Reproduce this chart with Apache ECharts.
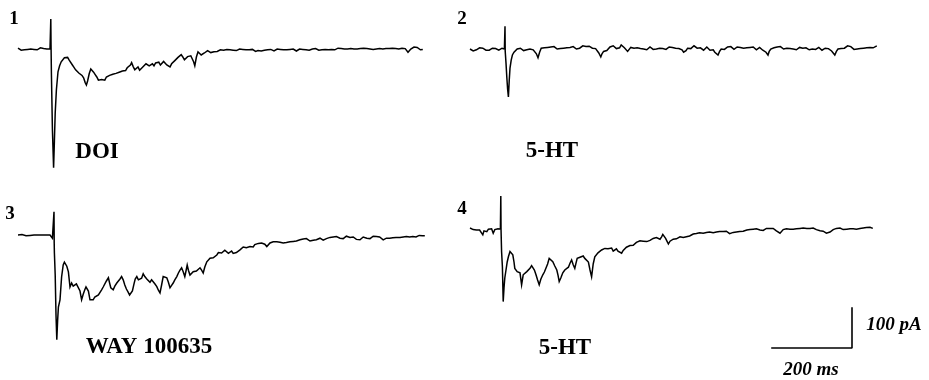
<!DOCTYPE html>
<html>
<head>
<meta charset="utf-8">
<script src="https://cdn.jsdelivr.net/npm/echarts@6/dist/echarts.min.js"></script>
<style>
  html, body { margin: 0; padding: 0; background: #fff; }
  #chart { width: 929px; height: 380px; }
</style>
</head>
<body>
<div id="chart"></div>
<script>
// Whole-cell current traces: [time (ms), current (pA)], baseline = 0 pA
const trace1Doi = [
  [0,2],[4,0],[8,-3],[12,-5],[16,-2],[20,-4],[24,-1],[28,-3],[32,0],[36,2],[40,-1],[44,1],[48,-2],[52,0],[56,3],[60,-1],[64,1],[68,-2],[72,0],[76,3],[80,0],
  [81,4],[82,75],[82.6,10],[83.5,-60],[86,-200],[89,-297],[91,-230],[93,-160],[96,-102],[100,-57],[104,-42],[108,-32],[112,-27],[116,-22],[120,-24],[124,-21],[128,-28],[132,-32],[136,-40],[140,-46],[144,-52],[148,-56],[152,-60],[156,-58],[160,-66],[164,-72],[168,-84],[171,-90],[174,-80],[178,-62],[182,-50],[185,-46],[189,-58],[193,-64],[197,-70],[201,-78],[205,-82],[209,-76],[213,-73],[217,-78],[221,-70],[225,-74],[229,-66],[233,-70],[237,-63],[241,-68],[245,-61],[249,-66],[253,-58],[257,-63],[261,-55],[265,-60],[269,-54],[273,-47],[277,-52],[281,-40],[284,-34],[288,-44],[292,-52],[296,-49],[300,-45],[304,-53],[308,-50],[312,-45],[316,-41],[320,-37],[324,-35],[328,-42],[332,-39],[336,-37],[340,-42],[344,-35],[348,-38],[352,-33],[356,-40],[360,-36],[364,-31],[368,-36],[372,-40],[376,-37],[380,-45],[384,-37],[388,-33],[392,-29],[396,-25],[400,-21],[404,-17],[408,-14],[412,-20],[416,-27],[420,-23],[424,-19],[428,-24],[432,-17],[436,-22],[439,-32],[442,-42],[446,-20],[450,-7],[454,-12],[458,-15],[462,-19],[466,-10],[470,-8],[474,-4],[478,-6],[482,-9],[486,-5],[490,-7],[494,-3],[498,-6],[502,-4],[506,-2],[510,-5],[514,-3],[518,-6],[522,-1],[526,-3],[530,-2],[534,-5],[538,-3],
  [542,-1],[546,-4],[550,-2],[554,0],[558,-3],[562,-1],[566,-4],[570,-2],[574,-5],[578,-2],[582,-3],[586,-1],[590,-4],[594,-6],[597,-10],[600,-4],[604,-2],[608,-5],[612,-1],[616,-3],[620,-6],[624,-2],[628,-4],[632,-1],[636,-3],[640,-5],[644,-2],[648,0],[652,-3],[656,-1],[660,-4],[664,-2],[668,0],[672,-2],[676,1],[680,-1],[684,-3],[688,0],[692,-2],[696,-5],[700,-2],[704,0],[708,-3],[712,-1],[716,1],[720,-2],[724,0],[728,-3],[732,-1],[736,0],[740,-2],[744,1],[748,-1],[752,-3],[756,0],[760,-2],[764,1],[768,-1],[772,0],[776,-2],[780,1],[784,-1],[788,0],[792,-2],[796,0],[800,2],[804,-1],[808,1],[812,-1],[816,0],[820,2],[824,0],[828,-2],[832,1],[836,-1],[840,0],[844,2],[848,0],[852,-1],[856,1],[860,0],[864,2],[868,0],[872,1],[876,3],[880,0],[884,1],[888,-1],[892,2],[896,0],[900,2],[904,1],[908,3],[912,0],[916,2],[920,1],[924,3],[928,1],[932,0],[936,2],[940,3],[944,1],[948,2],[952,0],[956,3],[960,2],[964,4],[968,1],[972,-2],[975,-8],[978,-3],[982,0],[986,2],[990,5],[994,3],[998,4],[1002,1],[1006,-2],[1010,0],[1012,-1]
];

const trace2FiveHT = [
  [0,0],[4,-3],[8,-5],[12,-7],[16,-2],[20,0],[24,3],[28,6],[32,2],[36,0],[40,-3],[44,-1],[48,-3],[52,0],[56,2],[60,4],[64,1],[68,-1],[72,-3],[76,-1],[80,2],[84,3],[86,0],
  [87.5,57],[88,-5],[90,-35],[92,-70],[94,-100],[96,-120],[98,-80],[100,-48],[103,-28],[106,-15],[110,-8],[114,-4],[118,0],[122,-3],[126,2],[130,0],[134,-4],[138,1],[142,-2],[146,3],[150,0],[154,-5],[158,-2],[162,-6],[166,-12],[170,-22],[174,-8],[178,2],[182,6],[186,3],[190,8],[194,4],[198,1],[202,5],[206,2],[210,6],[214,3],[218,0],[222,4],[226,1],[230,5],[234,2],[238,-1],[242,3],[246,0],[250,4],[254,2],[258,6],[262,3],[266,0],[270,4],[274,2],[278,5],[282,8],[286,4],[290,6],[294,3],[298,7],[302,4],[306,2],[310,5],[314,1],[318,-3],[322,-10],[327,-20],[330,-12],[334,-6],[338,-2],[342,-4],[346,0],[350,5],[354,3],[358,8],[362,4],[366,1],[370,6],[374,3],[378,10],[382,6],[386,3],[390,-2],[394,-6],[398,-1],[402,4],[406,0],[410,2],[414,-1],[418,3],[422,-2],[426,1],[430,4],[434,0],[438,3],[442,-2],[446,1],[450,5],[454,2],[458,-1],[462,3],[466,0],[470,-2],[474,2],[478,5],[482,1],[486,3],[490,-1],[494,2],[498,5],[502,8],[506,4],[510,6],[514,2],[518,5],[522,1],[526,3],[530,-2],[534,-8],[537,-12],[540,-4],[544,2],[548,5],[552,1],[556,4],[560,8],[564,5],[568,2],[572,6],[576,3],[580,0],[584,-3],[588,2],[592,5],[596,1],[600,-3],[604,-6],[608,-2],[612,-8],[616,-10],[620,-15],[624,-6],[628,0],[632,3],[636,-1],[640,2],[644,5],[648,2],[652,6],[656,3],[660,-1],[664,2],[668,5],[672,8],[676,4],[680,6],[684,2],[688,-1],[692,3],[696,0],[700,4],[704,1],[708,5],[712,2],[716,-2],[720,1],[724,4],[728,0],[732,-3],[736,-2],[740,-8],[745,-15],[748,-6],[752,0],[756,-3],[760,3],[764,0],[768,5],[772,2],[776,6],[780,3],[784,0],[788,4],[792,2],[796,5],[800,1],[804,3],[808,0],[812,2],[816,-2],[820,1],[824,4],[828,0],[832,2],[836,-1],[840,3],[844,1],[848,-2],[852,2],[856,0],[860,3],[864,-1],[868,1],[872,4],[876,0],[880,-3],[884,-1],[888,2],[892,-1],[896,1],[900,-3],[904,-5],[908,-8],[912,-15],[916,-6],[920,0],[924,3],[928,1],[932,5],[936,2],[940,6],[944,8],[948,4],[952,6],[956,2],[960,-1],[964,-3],[968,0],[972,-2],[976,1],[980,-1],[984,2],[988,0],[992,3],[996,1],[1000,4],[1004,6],[1008,3],[1012,5],[1017,8]
];

const trace3Way = [
  [0,0],[5,-1],[10,1],[15,0],[20,-2],[25,0],[30,-1],[35,1],[40,0],[45,-1],[50,0],[55,1],[60,0],[65,-1],[70,0],[75,1],[80,0],[83,-3],[86,-8],[89,-8],
  [90,58],[90.5,-20],[91,-45],[93,-100],[95,-200],[97,-262],[99,-215],[101,-180],[105,-162],[109,-105],[113,-75],[116,-68],[119,-70],[122,-78],[126,-92],[130,-130],[134,-120],[138,-128],[142,-132],[146,-122],[151,-125],[155,-140],[159,-162],[163,-148],[167,-137],[170,-130],[173,-125],[176,-140],[180,-162],[184,-158],[188,-162],[192,-155],[196,-158],[201,-150],[205,-145],[209,-137],[213,-130],[217,-125],[221,-115],[226,-107],[229,-120],[232,-132],[235,-135],[238,-137],[242,-128],[247,-120],[251,-115],[255,-110],[259,-104],[263,-112],[267,-125],[271,-135],[275,-142],[279,-150],[282,-155],[286,-140],[290,-122],[293,-110],[297,-104],[301,-112],[305,-117],[309,-108],[313,-97],[317,-104],[322,-110],[326,-112],[330,-118],[334,-112],[338,-117],[342,-122],[347,-129],[351,-138],[355,-145],[359,-125],[363,-104],[367,-108],[372,-107],[376,-118],[380,-132],[384,-126],[388,-120],[392,-112],[397,-104],[401,-95],[405,-88],[409,-82],[413,-92],[417,-104],[420,-90],[423,-75],[426,-88],[430,-100],[434,-96],[438,-92],[442,-96],[446,-90],[451,-95],[455,-82],[459,-88],[463,-95],[467,-80],[472,-67],[476,-62],[480,-58],[484,-54],[488,-57],[492,-52],[497,-50],[501,-44],[505,-39],[509,-45],[513,-42],[517,-38],[522,-39],[526,-46],[530,-44],[534,-40],[538,-46],[542,-50],[546,-44],[550,-40],[555,-37],[559,-33],[563,-30],[567,-27],[571,-32],[575,-28],[580,-29],[584,-26],[588,-30],[592,-24],[597,-25],[601,-21],[605,-24],[609,-20],[613,-19],[617,-23],[622,-29],[626,-24],[630,-20],[634,-21],[638,-17],[642,-20],[647,-17],[651,-21],[655,-18],[659,-22],[663,-20],[667,-25],[671,-19],[675,-16],[680,-17],[684,-13],[688,-16],[692,-12],[696,-15],[700,-11],[705,-12],[709,-15],[713,-10],[717,-13],[721,-9],[725,-12],[730,-15],[734,-11],[738,-13],[742,-9],[746,-12],[750,-8],[755,-8],[759,-11],[763,-13],[767,-17],[771,-9],[775,-6],[780,-6],[784,-9],[788,-5],[792,-8],[796,-4],[800,-7],[805,-8],[809,-5],[813,-9],[817,-6],[821,-3],[825,-7],[830,-6],[834,-9],[838,-5],[842,-8],[846,-11],[850,-7],[855,-12],[859,-8],[863,-5],[867,-9],[872,-8],[876,-5],[880,-9],[884,-6],[888,-3],[892,-7],[896,-4],[900,-8],[904,-5],[908,-9],[913,-12],[917,-15],[921,-8],[925,-5],[929,-8],[933,-4],[937,-7],[941,-3],[945,-6],[950,-4],[955,-6],[959,-2],[963,-5],[967,-8],[971,-4],[975,-2],[979,-5],[983,-1],[987,-4],[991,-2],[995,-5],[999,-3],[1003,-1],[1007,-3],[1011,-2],[1017,-2]
];

const trace4FiveHT = [
  [0,0],[4,-2],[8,-4],[12,-7],[16,-5],[20,-2],[24,-5],[28,-8],[32,-17],[35,-7],[38,-5],[42,-9],[46,-3],[50,-6],[54,-2],[58,-13],[62,-4],[66,-8],[70,-2],[74,-6],[76,-3],
  [77,80],[77.6,-5],[79,-60],[81,-97],[83,-184],[85,-150],[87,-125],[90,-105],[93,-85],[96,-72],[100,-59],[103,-60],[107,-67],[110,-85],[112,-101],[115,-106],[118,-109],[121,-104],[125,-112],[129,-142],[133,-117],[137,-112],[142,-109],[146,-104],[150,-101],[154,-94],[157,-97],[161,-105],[165,-117],[169,-130],[173,-142],[177,-128],[182,-117],[186,-110],[190,-105],[194,-90],[198,-76],[202,-80],[207,-84],[212,-95],[217,-105],[220,-118],[223,-134],[227,-125],[232,-112],[237,-105],[241,-100],[246,-98],[250,-88],[254,-80],[258,-92],[262,-101],[265,-88],[268,-76],[272,-78],[275,-73],[279,-73],[283,-70],[287,-76],[292,-73],[296,-85],[300,-105],[304,-122],[308,-90],[312,-72],[316,-68],[320,-62],[325,-59],[329,-55],[333,-53],[337,-51],[341,-56],[345,-52],[350,-55],[354,-50],[358,-58],[362,-57],[366,-52],[370,-58],[375,-60],[379,-63],[383,-56],[387,-52],[391,-48],[396,-47],[400,-44],[404,-40],[408,-43],[412,-38],[416,-36],[420,-34],[425,-32],[429,-37],[433,-33],[437,-36],[442,-34],[446,-29],[450,-31],[454,-27],[458,-26],[462,-30],[466,-24],[470,-27],[475,-28],[479,-22],[482,-16],[485,-15],[489,-26],[493,-34],[496,-40],[500,-33],[504,-30],[508,-28],[512,-24],[516,-27],[520,-22],[525,-22],[529,-26],[533,-24],[537,-28],[541,-22],[545,-18],[549,-20],[553,-16],[558,-15],[562,-18],[566,-14],[570,-17],[574,-12],[578,-15],[583,-13],[587,-16],[591,-11],[595,-14],[599,-10],[603,-13],[608,-12],[612,-15],[616,-10],[620,-13],[624,-9],[628,-12],[633,-9],[637,-12],[641,-8],[645,-11],[649,-14],[653,-9],[658,-11],[662,-7],[666,-10],[670,-6],[674,-9],[678,-5],[683,-8],[687,-4],[692,-5],[696,-8],[700,-4],[704,-7],[708,-3],[712,-6],[716,-2],[720,-5],[725,-5],[729,-2],[733,-6],[737,-3],[741,-1],[745,-4],[750,-1],[754,-3],[758,-1],[762,-4],[766,-7],[770,-10],[775,-13],[779,-8],[783,-4],[787,-6],[791,-2],[795,-5],[800,-3],[804,0],[808,-3],[812,1],[816,-2],[820,-4],[825,-1],[829,-3],[833,0],[837,-2],[842,-1],[846,-4],[850,-1],[854,-3],[858,0],[862,-2],[866,-4],[870,-2],[875,-7],[879,-4],[883,-8],[887,-10],[891,-13],[896,-15],[900,-10],[904,-6],[908,-4],[912,-3],[916,-1],[920,-4],[925,0],[929,-2],[933,-4],[937,-1],[942,-3],[946,0],[950,-2],[954,1],[958,-2],[962,0],[966,-3],[970,-1],[975,-1],[979,2],[983,0],[987,3],[991,1],[996,5],[1000,2],[1004,4],[1007,-1]
];

// Panel numbers and drug names
const panelNumbers = ['1', '2', '3', '4'];
const drugNames = ['DOI', '5-HT', 'WAY 100635', '5-HT'];

// Calibration bar: 200 ms horizontal, 100 pA vertical
const scaleBarMs = 200;
const scaleBarPA = 100;
const scaleBarTime = [0, scaleBarMs, scaleBarMs];
const scaleBarCurrent = [0, 0, scaleBarPA];

const traces = [trace1Doi, trace2FiveHT, trace3Way, trace4FiveHT];

// Shared scale: 0.4 px per ms and 0.4 px per pA in every panel
const T_MAX = 1020, I_MIN = -300, I_MAX = 100;
const panelGrids = [
  { left: 18,  top: 9,   width: 408, height: 160 },
  { left: 470, top: 9,   width: 408, height: 160 },
  { left: 18,  top: 195, width: 408, height: 160 },
  { left: 470, top: 188, width: 408, height: 160 }
];
const scaleGrid = { left: 772, top: 308, width: 80, height: 40 };

const serif = '"Liberation Serif", "DejaVu Serif", serif';
const ink = '#000';

const grid = panelGrids.concat([scaleGrid]).map(g => Object.assign({ containLabel: false }, g));

const xAxis = panelGrids.map((g, i) => ({
  type: 'value', gridIndex: i, min: 0, max: T_MAX, show: false
})).concat([{ type: 'value', gridIndex: 4, min: 0, max: scaleBarMs, show: false }]);

const yAxis = panelGrids.map((g, i) => ({
  type: 'value', gridIndex: i, min: I_MIN, max: I_MAX, show: false
})).concat([{ type: 'value', gridIndex: 4, min: 0, max: scaleBarPA, show: false }]);

const series = traces.map((d, i) => ({
  type: 'line',
  xAxisIndex: i,
  yAxisIndex: i,
  data: d,
  symbol: 'none',
  smooth: false,
  clip: false,
  silent: true,
  lineStyle: { color: ink, width: 1.5, join: 'miter' }
}));

series.push({
  type: 'line',
  xAxisIndex: 4,
  yAxisIndex: 4,
  data: scaleBarTime.map((t, i) => [t, scaleBarCurrent[i]]),
  symbol: 'none',
  clip: false,
  silent: true,
  lineStyle: { color: ink, width: 1.6, cap: 'square' }
});

function label(text, x, y, font) {
  return {
    type: 'text',
    x: x, y: y,
    silent: true,
    style: {
      text: text,
      font: font,
      fill: ink,
      textAlign: 'center',
      textVerticalAlign: 'middle',
      align: 'center',
      verticalAlign: 'middle'
    }
  };
}

const numberFont = 'bold 19px ' + serif;
const nameFont = 'bold 23px ' + serif;
const calFont = 'italic bold 19px ' + serif;

const numberPos = [[14, 19], [462, 19], [10, 214], [462, 209]];
const namePos = [[97, 152], [552, 151], [149, 347], [565, 348]];

const graphic = []
  .concat(panelNumbers.map((n, i) => label(n, numberPos[i][0], numberPos[i][1], numberFont)))
  .concat(drugNames.map((n, i) => label(n, namePos[i][0], namePos[i][1], nameFont)))
  .concat([
    label(scaleBarPA + ' pA', 894, 325, calFont),
    label(scaleBarMs + ' ms', 811, 370, calFont)
  ]);

const chart = echarts.init(document.getElementById('chart'), null, { renderer: 'canvas' });
chart.setOption({
  animation: false,
  backgroundColor: '#fff',
  grid: grid,
  xAxis: xAxis,
  yAxis: yAxis,
  series: series,
  graphic: graphic
});
</script>
</body>
</html>
